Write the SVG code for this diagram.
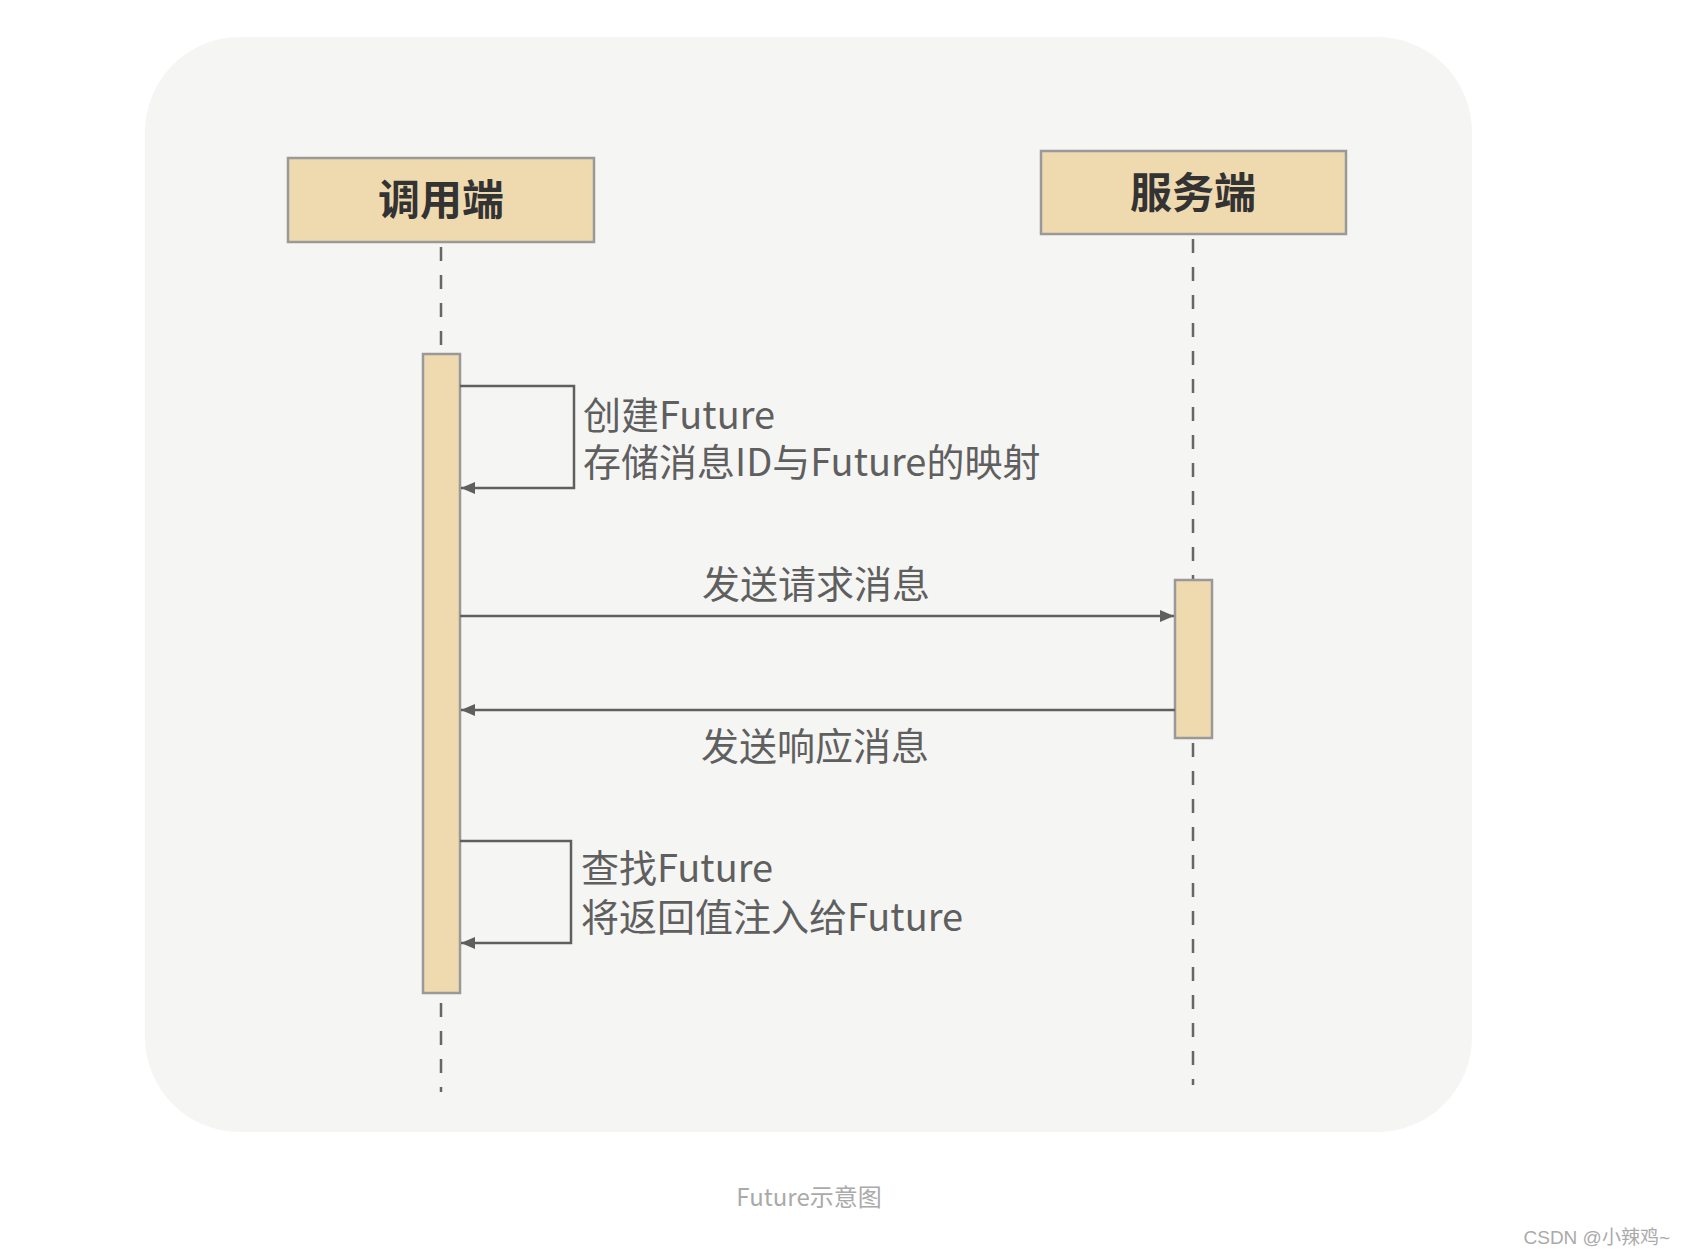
<svg xmlns="http://www.w3.org/2000/svg" width="1684" height="1256" viewBox="0 0 1684 1256">
<defs>
<marker id="arr" viewBox="0 0 14 12" refX="14" refY="6" markerWidth="14" markerHeight="12" markerUnits="userSpaceOnUse" orient="auto">
<path d="M0,0 L14,6 L0,12 Z" fill="#5f5f5f"/>
</marker>
</defs>
<style>
.head{fill:#efdab0;stroke:#999;stroke-width:2.5}
.bar{fill:#efdab0;stroke:#999;stroke-width:2.5}
.htxt{font-family:"Noto Sans CJK SC","Noto Sans",sans-serif;font-weight:bold;font-size:42px;fill:#333;text-anchor:middle}
.lbl{font-family:"Noto Sans CJK SC","Noto Sans",sans-serif;font-size:38px;fill:#5f5f5f}
.life{stroke:#666;stroke-width:2.5;stroke-dasharray:14 14;fill:none}
.msg{stroke:#5f5f5f;stroke-width:2.5;fill:none;marker-end:url(#arr)}
</style>
<rect width="1684" height="1256" fill="#ffffff"/>
<rect x="145" y="37" width="1327" height="1095" rx="95" ry="95" fill="#f5f5f3"/>
<g id="lifelines">
<line class="life" x1="441" y1="247" x2="441" y2="1092"/>
<line class="life" x1="1193" y1="239" x2="1193" y2="1085"/>
</g>
<g id="caller">
<rect class="head" x="288" y="158" width="306" height="84"/>
<text class="htxt" x="441" y="215">调用端</text>
</g>
<g id="server">
<rect class="head" x="1041" y="151" width="305" height="83"/>
<text class="htxt" x="1193" y="208">服务端</text>
</g>
<g id="caller-activation">
<rect class="bar" x="423" y="354" width="37" height="639"/>
</g>
<g id="server-activation">
<rect class="bar" x="1175" y="580" width="37" height="158"/>
</g>
<g id="connectors">
<path class="msg" d="M460,386 H574 V488 H461"/>
<path class="msg" d="M460,616 H1174"/>
<path class="msg" d="M1175,710 H461"/>
<path class="msg" d="M460,841 H571 V943 H461"/>
</g>
<g id="labels">
<text class="lbl" x="583" y="429">创建Future<tspan x="583" dy="47">存储消息ID与Future的映射</tspan></text>
<text class="lbl" x="816" y="598" text-anchor="middle">发送请求消息</text>
<text class="lbl" x="815" y="760" text-anchor="middle">发送响应消息</text>
<text class="lbl" x="581" y="882">查找Future<tspan x="581" dy="49">将返回值注入给Future</tspan></text>
</g>
<text x="809" y="1206" text-anchor="middle" font-family="Noto Sans CJK SC, Noto Sans, sans-serif" font-size="24" fill="#aaaaaa">Future示意图</text>
<text x="1670" y="1244" text-anchor="end" font-family="Liberation Sans, Noto Sans CJK SC, sans-serif" font-size="19" fill="#aaaaaa">CSDN @小辣鸡~</text>
</svg>
